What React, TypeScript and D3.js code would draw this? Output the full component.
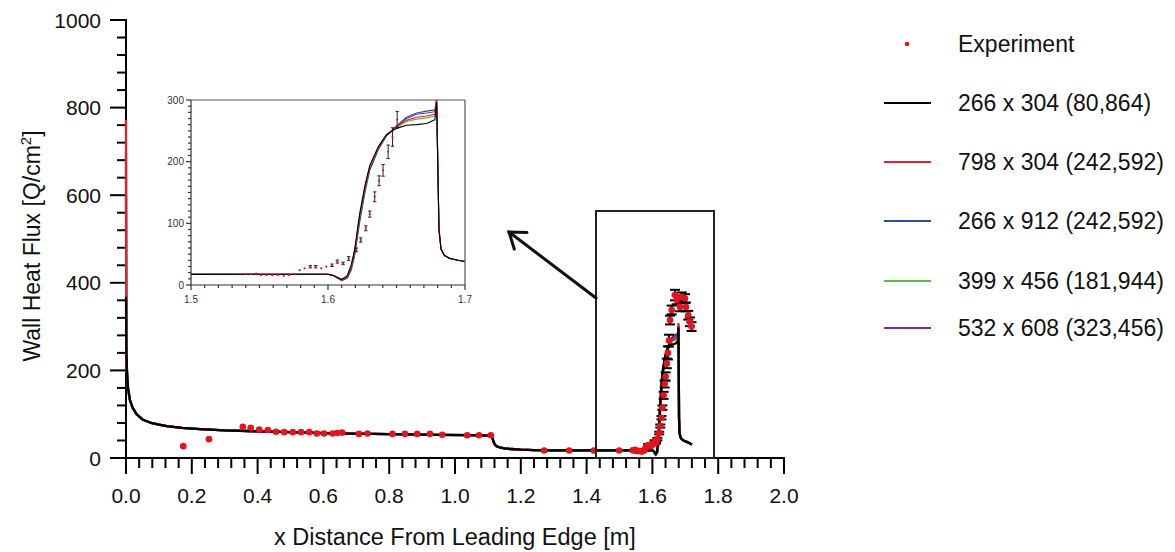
import React from 'react';
import * as d3 from 'd3';

const FONT = '"Liberation Sans", Arial, Helvetica, sans-serif';

// ---------- model x grid ----------
const modelX = [
  0, 0.001, 0.003, 0.006, 0.012, 0.02, 0.032, 0.05, 0.073, 0.1,
  0.124, 0.17, 0.225, 0.3, 0.4, 0.5, 0.63, 0.75, 0.85, 0.95,
  1.04, 1.112, 1.116, 1.12, 1.126, 1.135, 1.15, 1.17, 1.2, 1.24,
  1.29, 1.35, 1.45, 1.55, 1.6, 1.604, 1.607, 1.61, 1.614, 1.617,
  1.6195, 1.623, 1.627, 1.6305, 1.6366, 1.6427, 1.65, 1.6573, 1.6646, 1.672,
  1.678, 1.6793, 1.681, 1.6825, 1.685, 1.689, 1.695, 1.7, 1.71, 1.72,
];

// ---------- series values ----------
const mesh266x304 = [
  368, 250, 195, 160, 132, 115, 100, 88, 81, 76,
  73, 69, 66, 63, 61, 59, 56, 55, 54, 53,
  52, 51, 40, 32, 27, 24.5, 22, 20.5, 19.2, 18.2,
  17.6, 17.4, 17.2, 17.4, 17.4, 15.5, 12, 9, 15, 33,
  58, 114, 162, 194, 224, 244, 254, 259, 260, 262,
  268, 296, 90, 58, 48, 43, 40, 38, 35, 31,
];
const mesh798x304 = [
  772, 250, 195, 160, 132, 115, 100, 88, 81, 76,
  73, 69, 66, 63, 61, 59, 56, 55, 54, 53,
  52, 51, 40, 32, 27, 24.5, 22, 20.5, 19.2, 18.2,
  17.6, 17.4, 17.2, 17.4, 17.4, 15.5, 12, 9, 13, 29,
  55, 110, 158, 191, 222, 243, 257, 267, 272, 274,
  277, 306, 92, 59, 48, 43, 40, 38, 35, 31,
];
const mesh266x912 = [
  600, 250, 195, 160, 132, 115, 100, 88, 81, 76,
  73, 69, 66, 63, 61, 59, 56, 55, 54, 53,
  52, 51, 40, 32, 27, 24.5, 22, 20.5, 19.2, 18.2,
  17.6, 17.4, 17.2, 17.4, 17.4, 15, 11, 7, 11, 24,
  48, 100, 150, 186, 219, 242, 258, 272, 279, 282,
  284, 300, 90, 58, 48, 43, 40, 38, 35, 31,
];
const mesh399x456 = [
  500, 250, 195, 160, 132, 115, 100, 88, 81, 76,
  73, 69, 66, 63, 61, 59, 56, 55, 54, 53,
  52, 51, 40, 32, 27, 24.5, 22, 20.5, 19.2, 18.2,
  17.6, 17.4, 17.2, 17.4, 17.4, 15.3, 11.5, 8, 12, 27,
  52, 105, 154, 188, 220, 242, 255, 265, 269, 271,
  274, 298, 90, 58, 48, 43, 40, 38, 35, 31,
];
const mesh532x608 = [
  700, 250, 195, 160, 132, 115, 100, 88, 81, 76,
  73, 69, 66, 63, 61, 59, 56, 55, 54, 53,
  52, 51, 40, 32, 27, 24.5, 22, 20.5, 19.2, 18.2,
  17.6, 17.4, 17.2, 17.4, 17.4, 15.3, 11.5, 8, 12, 28,
  54, 107, 156, 189, 221, 243, 257, 270, 277, 279,
  281, 301, 90, 58, 48, 43, 40, 38, 35, 31,
];

// ---------- experiment ----------
const expX = [
  0.174, 0.252, 0.355, 0.379, 0.405, 0.431, 0.456, 0.481, 0.507, 0.532,
  0.557, 0.58, 0.602, 0.628, 0.642, 0.657, 0.708, 0.734, 0.81, 0.848,
  0.885, 0.924, 0.961, 1.037, 1.073, 1.109, 1.271, 1.347, 1.422, 1.499,
  1.5402, 1.5439, 1.5476, 1.5512, 1.5549, 1.5593, 1.5634, 1.5676, 1.5715, 1.5756,
  1.5793, 1.5829, 1.5871, 1.591, 1.5951, 1.5988, 1.6029, 1.6068, 1.611, 1.6151,
  1.6207, 1.6239, 1.6276, 1.6305, 1.6341, 1.6373, 1.6402, 1.6439, 1.6471, 1.6505,
  1.6535, 1.6586, 1.6687, 1.674, 1.684, 1.689, 1.699, 1.702, 1.709, 1.714,
  1.719,
];
const expY = [
  27, 43, 71, 69, 65, 64, 60, 59, 59, 59,
  59, 56, 56, 56, 57, 58, 55, 56, 55, 55,
  55, 55, 53, 52, 52, 52, 17, 17, 17, 17,
  17.8, 17.8, 18.5, 16, 16, 16, 16, 14.6, 16, 17.8,
  24, 27, 29.7, 29.7, 27, 29.7, 32, 38, 35, 43,
  57, 73, 92, 115, 143, 169, 186, 216, 240, 268,
  315, 338, 372, 361, 345, 368, 364, 345, 326, 311,
  300,
];
const expErr = [
  0, 0, 0, 0, 0, 0, 0, 0, 0, 0,
  0, 0, 0, 0, 0, 0, 0, 0, 0, 0,
  0, 0, 0, 0, 0, 0, 0, 0, 0, 0,
  0, 0, 0, 0, 0, 0, 0, 0, 0, 0,
  0, 0, 2, 2, 0, 0, 2, 2.5, 2, 3,
  3, 3.5, 4, 5, 8, 8, 9.5, 11, 15, 13.5,
  10, 10, 12, 10, 10, 10, 10, 10, 10, 10,
  10,
];

// ---------- legend / ticks ----------
const seriesNames = [
  '266 x 304 (80,864)',
  '798 x 304 (242,592)',
  '266 x 912 (242,592)',
  '399 x 456 (181,944)',
  '532 x 608 (323,456)',
];
const seriesColors = ['#000000', '#e3202a', '#2b4f9e', '#5fb946', '#7b2d9b'];
const xTickValues = [0, 0.2, 0.4, 0.6, 0.8, 1.0, 1.2, 1.4, 1.6, 1.8, 2.0];
const xTickLabels = ['0.0', '0.2', '0.4', '0.6', '0.8', '1.0', '1.2', '1.4', '1.6', '1.8', '2.0'];
const yTickValues = [0, 200, 400, 600, 800, 1000];
const yTickLabels = ['0', '200', '400', '600', '800', '1000'];
const insetXTicks = [1.5, 1.6, 1.7];
const insetXLabels = ['1.5', '1.6', '1.7'];
const insetYTicks = [0, 100, 200, 300];
const insetYLabels = ['0', '100', '200', '300'];

const EXP_COLOR = '#e3141f';

export default function App() {
  const x = d3.scaleLinear().domain([0, 2]).range([126, 784]);
  const y = d3.scaleLinear().domain([0, 1000]).range([458, 20]);
  const ix = d3.scaleLinear().domain([1.5, 1.7]).range([191, 465]);
  const iy = d3.scaleLinear().domain([0, 300]).range([285, 100]);

  const allSeries = [mesh266x304, mesh798x304, mesh266x912, mesh399x456, mesh532x608];
  const drawOrder = [4, 3, 2, 1, 0];

  const mainLine = d3.line<number>().x((_, i) => x(modelX[i])).y((v) => y(v));
  const insetLine = d3.line<number>().x((_, i) => ix(modelX[i])).y((v) => iy(v));

  const xMinor = d3.range(0, 51).map((i) => i * 0.04);
  const yMinor = d3.range(0, 26).map((i) => i * 40);
  const ixMinor = d3.range(0, 21).map((i) => 1.5 + i * 0.01);
  const iyMinor = d3.range(0, 31).map((i) => i * 10);

  // arrow
  const ax0 = 596, ay0 = 298, ax1 = 509, ay1 = 232;
  const ang = Math.atan2(ay1 - ay0, ax1 - ax0);
  const headLen = 18;
  const wing = (s: number) => [ax1 - headLen * Math.cos(ang + s * 0.62), ay1 - headLen * Math.sin(ang + s * 0.62)];
  const w1 = wing(1);
  const w2 = wing(-1);

  const legendY = [103, 162, 221, 281, 328];

  return (
    <svg
      width={1175}
      height={552}
      style={{ position: 'absolute', left: 0, top: 0, background: '#fff' }}
      fontFamily={FONT}
    >
      <defs>
        <clipPath id="insetClip">
          <rect x={191} y={100} width={274} height={185} />
        </clipPath>
      </defs>
      <rect x={0} y={0} width={1175} height={552} fill="#fff" />

      {/* main axes */}
      <g stroke="#000" strokeWidth={2}>
        <line x1={126} x2={126} y1={y(1000) - 1} y2={y(0)} />
        <line x1={125} x2={785} y1={y(0)} y2={y(0)} />
        {xMinor.map((v, i) => (
          <line key={'xm' + i} x1={x(v)} x2={x(v)} y1={y(0)} y2={y(0) + (i % 5 === 0 ? 16 : 10)} />
        ))}
        {yMinor.map((v, i) => (
          <line key={'ym' + i} x1={126} x2={126 - (i % 5 === 0 ? 16 : 9)} y1={y(v)} y2={y(v)} />
        ))}
      </g>

      {/* main model lines */}
      {drawOrder.map((k) => (
        <path key={'m' + k} d={mainLine(allSeries[k]) || ''} fill="none" stroke={seriesColors[k]} strokeWidth={2.3} strokeLinejoin="round" />
      ))}

      {/* main experiment error bars */}
      {expX.map((ex, i) =>
        expErr[i] > 0 ? (
          <g key={'e' + i} stroke="#000" strokeWidth={2}>
            <line x1={x(ex)} x2={x(ex)} y1={y(expY[i] - expErr[i])} y2={y(expY[i] + expErr[i])} />
            <line x1={x(ex) - 5} x2={x(ex) + 5} y1={y(expY[i] - expErr[i])} y2={y(expY[i] - expErr[i])} />
            <line x1={x(ex) - 5} x2={x(ex) + 5} y1={y(expY[i] + expErr[i])} y2={y(expY[i] + expErr[i])} />
          </g>
        ) : null
      )}
      {expX.map((ex, i) => (
        <circle key={'p' + i} cx={x(ex)} cy={y(expY[i])} r={3.3} fill={EXP_COLOR} />
      ))}

      {xTickValues.map((v, i) => (
        <text key={'xl' + i} x={x(v)} y={503} textAnchor="middle" fontSize={21} fill="#111">
          {xTickLabels[i]}
        </text>
      ))}
      {yTickValues.map((v, i) => (
        <text key={'yl' + i} x={101} y={y(v)} dy="0.36em" textAnchor="end" fontSize={21} fill="#111">
          {yTickLabels[i]}
        </text>
      ))}
      <text x={455} y={545} textAnchor="middle" fontSize={23.5} fill="#111">
        x Distance From Leading Edge [m]
      </text>
      <text transform="translate(40,246) rotate(-90)" textAnchor="middle" fontSize={23} fill="#111">
        Wall Heat Flux [Q/cm
        <tspan fontSize={15} dy={-9}>2</tspan>
        <tspan dy={9}>]</tspan>
      </text>

      {/* zoom box and arrow */}
      <rect x={596} y={211} width={118} height={247} fill="none" stroke="#222" strokeWidth={2} />
      <g stroke="#111" strokeWidth={3} strokeLinecap="round" fill="none">
        <line x1={ax0} y1={ay0} x2={ax1} y2={ay1} />
        <polyline points={`${w1[0]},${w1[1]} ${ax1},${ay1} ${w2[0]},${w2[1]}`} strokeLinejoin="miter" />
      </g>

      {/* inset */}
      <rect x={191} y={100} width={274} height={185} fill="#fff" />
      <g clipPath="url(#insetClip)">
        {drawOrder.map((k) => (
          <path key={'i' + k} d={insetLine(allSeries[k]) || ''} fill="none" stroke={seriesColors[k]} strokeWidth={1.1} strokeLinejoin="round" />
        ))}
        {expX.map((ex, i) =>
          expErr[i] > 0 ? (
            <g key={'ie' + i} stroke="#111" strokeWidth={0.9}>
              <line x1={ix(ex)} x2={ix(ex)} y1={iy(expY[i] - expErr[i])} y2={iy(expY[i] + expErr[i])} />
              <line x1={ix(ex) - 1.7} x2={ix(ex) + 1.7} y1={iy(expY[i] - expErr[i])} y2={iy(expY[i] - expErr[i])} />
              <line x1={ix(ex) - 1.7} x2={ix(ex) + 1.7} y1={iy(expY[i] + expErr[i])} y2={iy(expY[i] + expErr[i])} />
            </g>
          ) : null
        )}
        {expX.map((ex, i) => (
          <circle key={'ip' + i} cx={ix(ex)} cy={iy(expY[i])} r={1.1} fill={EXP_COLOR} />
        ))}
      </g>
      <g stroke="#555" strokeWidth={1.2} fill="none">
        <line x1={191} x2={465} y1={100} y2={100} />
        <line x1={465} x2={465} y1={100} y2={285} />
      </g>
      <g stroke="#333" strokeWidth={1.2}>
        <line x1={191} x2={191} y1={100} y2={285} />
        <line x1={191} x2={465} y1={285} y2={285} />
        {ixMinor.map((v, i) => (
          <line key={'ixm' + i} x1={ix(v)} x2={ix(v)} y1={285} y2={285 + (i % 10 === 0 ? 5 : 3)} />
        ))}
        {iyMinor.map((v, i) => (
          <line key={'iym' + i} x1={191} x2={191 - (i % 10 === 0 ? 5 : 3)} y1={iy(v)} y2={iy(v)} />
        ))}
      </g>
      {insetXTicks.map((v, i) => (
        <text key={'ixl' + i} x={ix(v)} y={303} textAnchor="middle" fontSize={10} fill="#333">
          {insetXLabels[i]}
        </text>
      ))}
      {insetYTicks.map((v, i) => (
        <text key={'iyl' + i} x={184} y={iy(v)} dy="0.35em" textAnchor="end" fontSize={10} fill="#333">
          {insetYLabels[i]}
        </text>
      ))}

      {/* legend */}
      <circle cx={907} cy={44} r={2.3} fill={EXP_COLOR} />
      <text x={958} y={44} dy="0.36em" fontSize={23} fill="#111">Experiment</text>
      {seriesNames.map((n, i) => (
        <g key={'lg' + i}>
          <line x1={884} x2={931} y1={legendY[i]} y2={legendY[i]} stroke={seriesColors[i]} strokeWidth={2} />
          <text x={958} y={legendY[i]} dy="0.36em" fontSize={23} fill="#111">{n}</text>
        </g>
      ))}
    </svg>
  );
}
